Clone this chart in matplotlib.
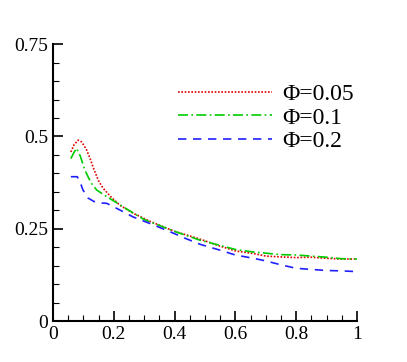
import numpy as np
import matplotlib.pyplot as plt
from matplotlib.ticker import MultipleLocator

plt.rcParams['font.family'] = ['Liberation Serif', 'DejaVu Serif']

# Phi = 0.05
x1 = [0.059, 0.07, 0.083, 0.095, 0.11, 0.122, 0.133, 0.15, 0.165, 0.19, 0.22, 0.264, 0.32, 0.4,
      0.484, 0.55, 0.6, 0.66, 0.7, 0.747, 0.8, 0.85, 0.9, 0.95, 1.0]
y1 = [0.458, 0.478, 0.49, 0.485, 0.465, 0.441, 0.415, 0.38, 0.36, 0.337, 0.314, 0.292, 0.27, 0.243,
      0.222, 0.203, 0.19, 0.183, 0.176, 0.174, 0.172, 0.173, 0.170, 0.168, 0.168]
# Phi = 0.1
x2 = [0.059, 0.068, 0.078, 0.09, 0.105, 0.125, 0.144, 0.177, 0.23, 0.3, 0.4, 0.484, 0.55, 0.6,
      0.66, 0.7, 0.747, 0.8, 0.85, 0.9, 0.95, 1.0]
y2 = [0.44, 0.455, 0.468, 0.447, 0.409, 0.375, 0.355, 0.337, 0.31, 0.275, 0.243, 0.219, 0.205, 0.194,
      0.187, 0.184, 0.18, 0.179, 0.176, 0.173, 0.169, 0.168]
# Phi = 0.2
x3 = [0.059, 0.08, 0.09, 0.099, 0.116, 0.135, 0.155, 0.177, 0.22, 0.264, 0.32, 0.374, 0.43, 0.484,
      0.55, 0.6, 0.66, 0.7, 0.747, 0.8, 0.85, 0.9, 0.95, 1.0]
y3 = [0.391, 0.391, 0.375, 0.355, 0.333, 0.324, 0.32, 0.319, 0.301, 0.282, 0.264, 0.246, 0.226, 0.208,
      0.192, 0.179, 0.170, 0.163, 0.153, 0.143, 0.140, 0.137, 0.136, 0.134]

fig = plt.figure(figsize=(4.07, 3.62), dpi=100)
ax = fig.add_axes([0.130, 0.113, 0.747, 0.765])

ax.plot(x1, y1, color='#e00000', linestyle=(0, (1, 1)), lw=1.2, label='Φ=0.05')
ax.plot(x2, y2, color='#00cc00', linestyle=(0, (6, 2, 1, 2)), lw=1.2, label='Φ=0.1')
ax.plot(x3, y3, color='#2020ff', linestyle=(0, (5, 4)), lw=1.2, label='Φ=0.2')

ax.set_xlim(0, 1)
ax.set_ylim(0, 0.75)
ax.xaxis.set_minor_locator(MultipleLocator(0.05))
ax.yaxis.set_minor_locator(MultipleLocator(0.05))
ax.set_xticks([0, 0.2, 0.4, 0.6, 0.8, 1.0])
ax.set_xticklabels(['0', '0.2', '0.4', '0.6', '0.8', '1'])
ax.set_yticks([0, 0.25, 0.5, 0.75])
ax.set_yticklabels(['0', '0.25', '0.5', '0.75'])
ax.tick_params(which='major', direction='in', length=7, width=1.2, labelsize=14)
ax.tick_params(which='minor', direction='in', length=4, width=0.8)
for s in ['top', 'right']:
    ax.spines[s].set_visible(False)
for s in ['left', 'bottom']:
    ax.spines[s].set_linewidth(1.5)

ax.legend(loc='upper left', bbox_to_anchor=(0.411, 0.857), frameon=False, fontsize=17,
          handlelength=4.0, handletextpad=0.42, labelspacing=0.08,
          borderpad=0, borderaxespad=0)

fig.savefig('out.png', dpi=100)
